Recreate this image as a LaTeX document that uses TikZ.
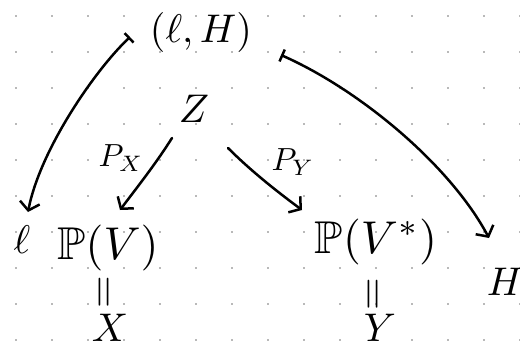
\documentclass[tikz,border=0pt]{standalone}
\usepackage{amssymb}
\usetikzlibrary{arrows.meta}
\begin{document}
\begin{tikzpicture}[x=1pt,y=-1pt,
  lbl/.style={inner sep=0pt, scale=4},
  biglbl/.style={inner sep=0pt, scale=4.6},
  smalllbl/.style={inner sep=0pt, scale=3.2},
  eqlbl/.style={inner sep=0pt, rotate=90, scale=4.2},
  maparrow/.style={line width=2.5pt, line cap=round, {Bar[width=13pt,line width=2.5pt]}-{Straight Barb[length=8pt,width=20pt,line width=2.5pt]}},
  arr/.style={line width=2.5pt, line cap=round, -{Straight Barb[length=8pt,width=20pt,line width=2.5pt]}},
  gdot/.style={fill=black!55}]
\useasboundingbox (0,0) rectangle (520,349);
\fill[white] (0,0) rectangle (520,349);
\foreach \i in {0,...,14} \foreach \j in {0,...,9} \fill[gdot] (16+36*\i,16+36*\j) circle (0.8pt);
% labels
\node[lbl] (lh) at (201,32) {$(\ell,H)$};
\node[lbl] (z) at (194,109) {$Z$};
\node[lbl] (l) at (22,240) {$\ell$};
\node[biglbl] (pv) at (108,248) {$\mathbb{P}(V)$};
\node[eqlbl] (eq1) at (107,292) {=};
\node[lbl] (x) at (110,328) {$X$};
\node[biglbl] (pvs) at (376,242) {$\mathbb{P}(V^{*})$};
\node[eqlbl] (eq2) at (376,294) {=};
\node[lbl] (y) at (380,328) {$Y$};
\node[lbl] (h) at (505,282) {$H$};
\node[smalllbl] (px) at (121,158) {$P_X$};
\node[smalllbl] (py) at (293,162) {$P_Y$};
% connector end points
\coordinate (s1) at (130,37);
\coordinate (e1) at (28,212);
\coordinate (s2) at (281,55);
\coordinate (e2) at (489,238);
\coordinate (s3) at (172,138);
\coordinate (e3) at (120,210);
\coordinate (s4) at (228,148);
\coordinate (e4) at (302,210);
% connectors
\draw[maparrow] (s1) .. controls (95,70) and (40,150) .. (e1);
\draw[maparrow] (s2) .. controls (360,90) and (450,165) .. (e2);
\draw[arr] (s3) .. controls (155,165) and (135,190) .. (e3);
\draw[arr] (s4) .. controls (250,170) and (275,190) .. (e4);
\end{tikzpicture}
\end{document}
